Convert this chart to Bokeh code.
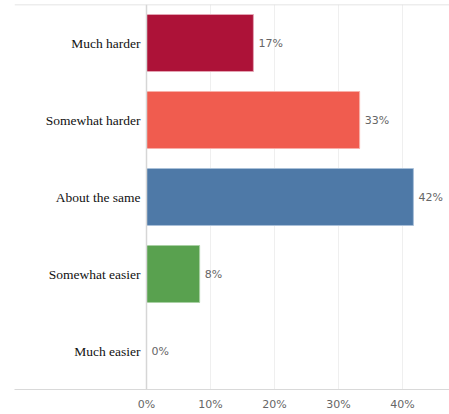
from bokeh.plotting import figure
from bokeh.models import ColumnDataSource, Range1d, FixedTicker, Span, CustomJSTickFormatter
from bokeh.core.properties import value
from bokeh.embed import file_html
from bokeh.resources import INLINE

categories = ["Much harder", "Somewhat harder", "About the same", "Somewhat easier", "Much easier"]
values = [16.7, 33.3, 41.7, 8.3, 0.0]
value_labels = ["17%", "33%", "42%", "8%", "0%"]
colors = ["#AD1238", "#F05C4F", "#4E79A7", "#59A14F", "#76B7B2"]
edge_colors = ["#E3A3B3", "#F8B0A9", "#A9C0D8", "#A9D0A4", "#BCD3CF"]
tick_values = [0, 10, 20, 30, 40]

src = ColumnDataSource(dict(cat=categories, val=values, lab=value_labels,
                            color=colors, edge=edge_colors))

p = figure(width=449, height=414, output_backend="svg", toolbar_location=None,
           y_range=list(reversed(categories)),
           x_range=Range1d(-20.625, 47.34),
           min_border_left=14, min_border_right=0, min_border_top=4, min_border_bottom=25)

p.hbar(y="cat", right="val", left=0, height=0.74, source=src,
       fill_color="color", line_color="edge", line_width=1)

# value labels
p.text(x="val", y="cat", text="lab", source=src, x_offset=5,
       text_align="left", text_baseline="middle",
       text_font=value("DejaVu Sans"), text_font_size="11px", text_color="#666666")

# category labels
p.text(x=0, y="cat", text="cat", source=src, x_offset=-6,
       text_align="right", text_baseline="middle",
       text_font=value("Liberation Serif"), text_font_size="13.5px", text_color="#111111")

p.yaxis.visible = False
p.ygrid.grid_line_color = None

p.xaxis.ticker = FixedTicker(ticks=tick_values)
p.xaxis.formatter = CustomJSTickFormatter(code="return tick + '%';")
p.xaxis.axis_line_color = "#d9d9d9"
p.xaxis.axis_line_width = 1
p.xaxis.major_tick_line_color = None
p.xaxis.minor_tick_line_color = None
p.xaxis.major_tick_out = 0
p.xaxis.major_tick_in = 0
p.xaxis.minor_tick_out = 0
p.xaxis.major_label_standoff = 8
p.xaxis.major_label_text_font = "DejaVu Sans"
p.xaxis.major_label_text_font_size = "11px"
p.xaxis.major_label_text_color = "#666666"
p.xaxis.major_label_text_font_style = "normal"

p.xgrid.ticker = FixedTicker(ticks=tick_values[1:])
p.xgrid.grid_line_color = "#efefef"
p.xgrid.grid_line_width = 1

p.outline_line_color = None
p.add_layout(Span(location=0, dimension="height", line_color="#d6d6d6", line_width=1.5))
p.add_layout(Span(location=len(categories), dimension="width", line_color="#dcdcdc", line_width=1.5))

open("out.html", "w").write(file_html(p, INLINE))
